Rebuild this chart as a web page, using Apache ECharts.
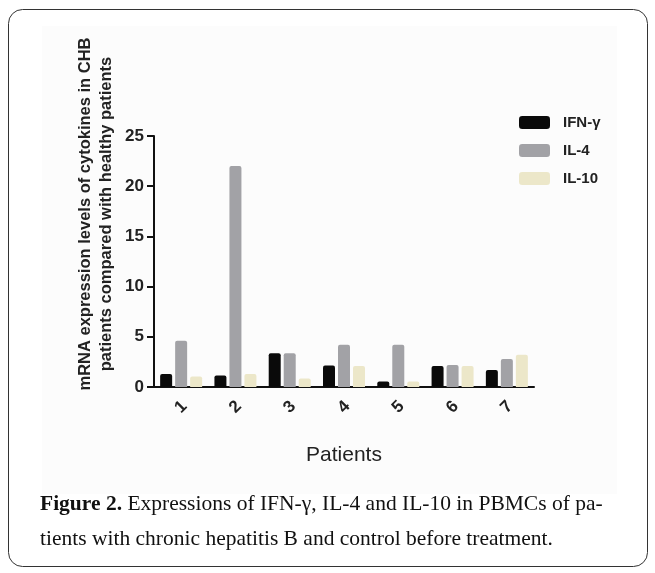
<!DOCTYPE html>
<html><head><meta charset="utf-8">
<script src="https://cdn.jsdelivr.net/npm/echarts@6/dist/echarts.min.js"></script>
<style>html,body{margin:0;padding:0;background:#fff}#c{width:655px;height:573px}</style>
</head><body><div id="c"></div>
<script>
const categories = ['1','2','3','4','5','6','7'];
const ifnG = [1.3, 1.15, 3.35, 2.15, 0.55, 2.1, 1.7];
const il4 = [4.6, 22.0, 3.35, 4.2, 4.2, 2.2, 2.8];
const il10 = [1.05, 1.3, 0.85, 2.1, 0.55, 2.1, 3.2];
const yTicks = [0, 5, 10, 15, 20, 25];
const seriesNames = ['IFN-γ', 'IL-4', 'IL-10'];

const chart = echarts.init(document.getElementById('c'));
const barStyle = (c) => ({ color: c, borderRadius: [2, 2, 0, 0] });
chart.setOption({
  animation: false,
  backgroundColor: '#fff',
  grid: { left: 154, right: 121, top: 136, bottom: 186 },
  legend: {
    orient: 'vertical', left: 514, top: 110, itemWidth: 31, itemHeight: 13, itemGap: 13,
    icon: 'roundRect',
    textStyle: { fontFamily: 'Liberation Sans', fontWeight: 'bold', fontSize: 15, color: '#222', padding: [0, 0, 0, 8] },
    data: seriesNames
  },
  xAxis: {
    type: 'category', data: categories,
    axisLine: { lineStyle: { color: '#111', width: 2 } },
    axisTick: { alignWithLabel: true, length: 7, lineStyle: { color: '#111', width: 2 } },
    axisLabel: { rotate: 45, margin: 20, align: 'center', verticalAlign: 'middle', fontFamily: 'Liberation Sans', fontWeight: 'bold', fontSize: 17, color: '#222' },
    name: 'Patients', nameLocation: 'middle', nameGap: 58,
    nameTextStyle: { fontFamily: 'Liberation Sans', fontSize: 21, color: '#222' }
  },
  yAxis: {
    type: 'value', min: yTicks[0], max: yTicks[yTicks.length - 1], interval: 5,
    splitLine: { show: false },
    axisLine: { show: true, lineStyle: { color: '#111', width: 2 } },
    axisTick: { show: true, length: 7, lineStyle: { color: '#111', width: 2 } },
    axisLabel: { margin: 10, fontFamily: 'Liberation Sans', fontWeight: 'bold', fontSize: 17, color: '#222' }
  },
  series: [
    { name: seriesNames[0], type: 'bar', data: ifnG, barWidth: 12, barGap: '25%', itemStyle: barStyle('#0a0a0a') },
    { name: seriesNames[1], type: 'bar', data: il4, barWidth: 12, itemStyle: barStyle('#a2a2a6') },
    { name: seriesNames[2], type: 'bar', data: il10, barWidth: 12, itemStyle: barStyle('#ece7c9') }
  ],
  graphic: [
    { type: 'rect', z: -10, shape: { x: 8.5, y: 9.5, width: 639, height: 557, r: 14 }, style: { fill: '#fff', stroke: '#333', lineWidth: 1 } },
    { type: 'rect', z: -9, shape: { x: 42, y: 26, width: 575, height: 468 }, style: { fill: '#fcfcfc' } },
    { type: 'text', x: 96, y: 214, rotation: Math.PI / 2,
      style: { text: 'mRNA expression levels of cytokines in CHB\npatients compared with healthy patients',
        fontFamily: 'Liberation Sans', fontWeight: 'bold', fontSize: 16.5, lineHeight: 21, fill: '#222',
        align: 'center', verticalAlign: 'middle' } },
    { type: 'text', x: 40, y: 522,
      style: { text: '{b|Figure 2.} Expressions of IFN-γ, IL-4 and IL-10 in PBMCs of pa-\ntients with chronic hepatitis B and control before treatment.',
        fontFamily: 'Liberation Serif', fontSize: 21.5, lineHeight: 35, fill: '#111', verticalAlign: 'middle',
        rich: { b: { fontFamily: 'Liberation Serif', fontWeight: 'bold', fontSize: 21.5, fill: '#111' } } } }
  ]
});
</script></body></html>
